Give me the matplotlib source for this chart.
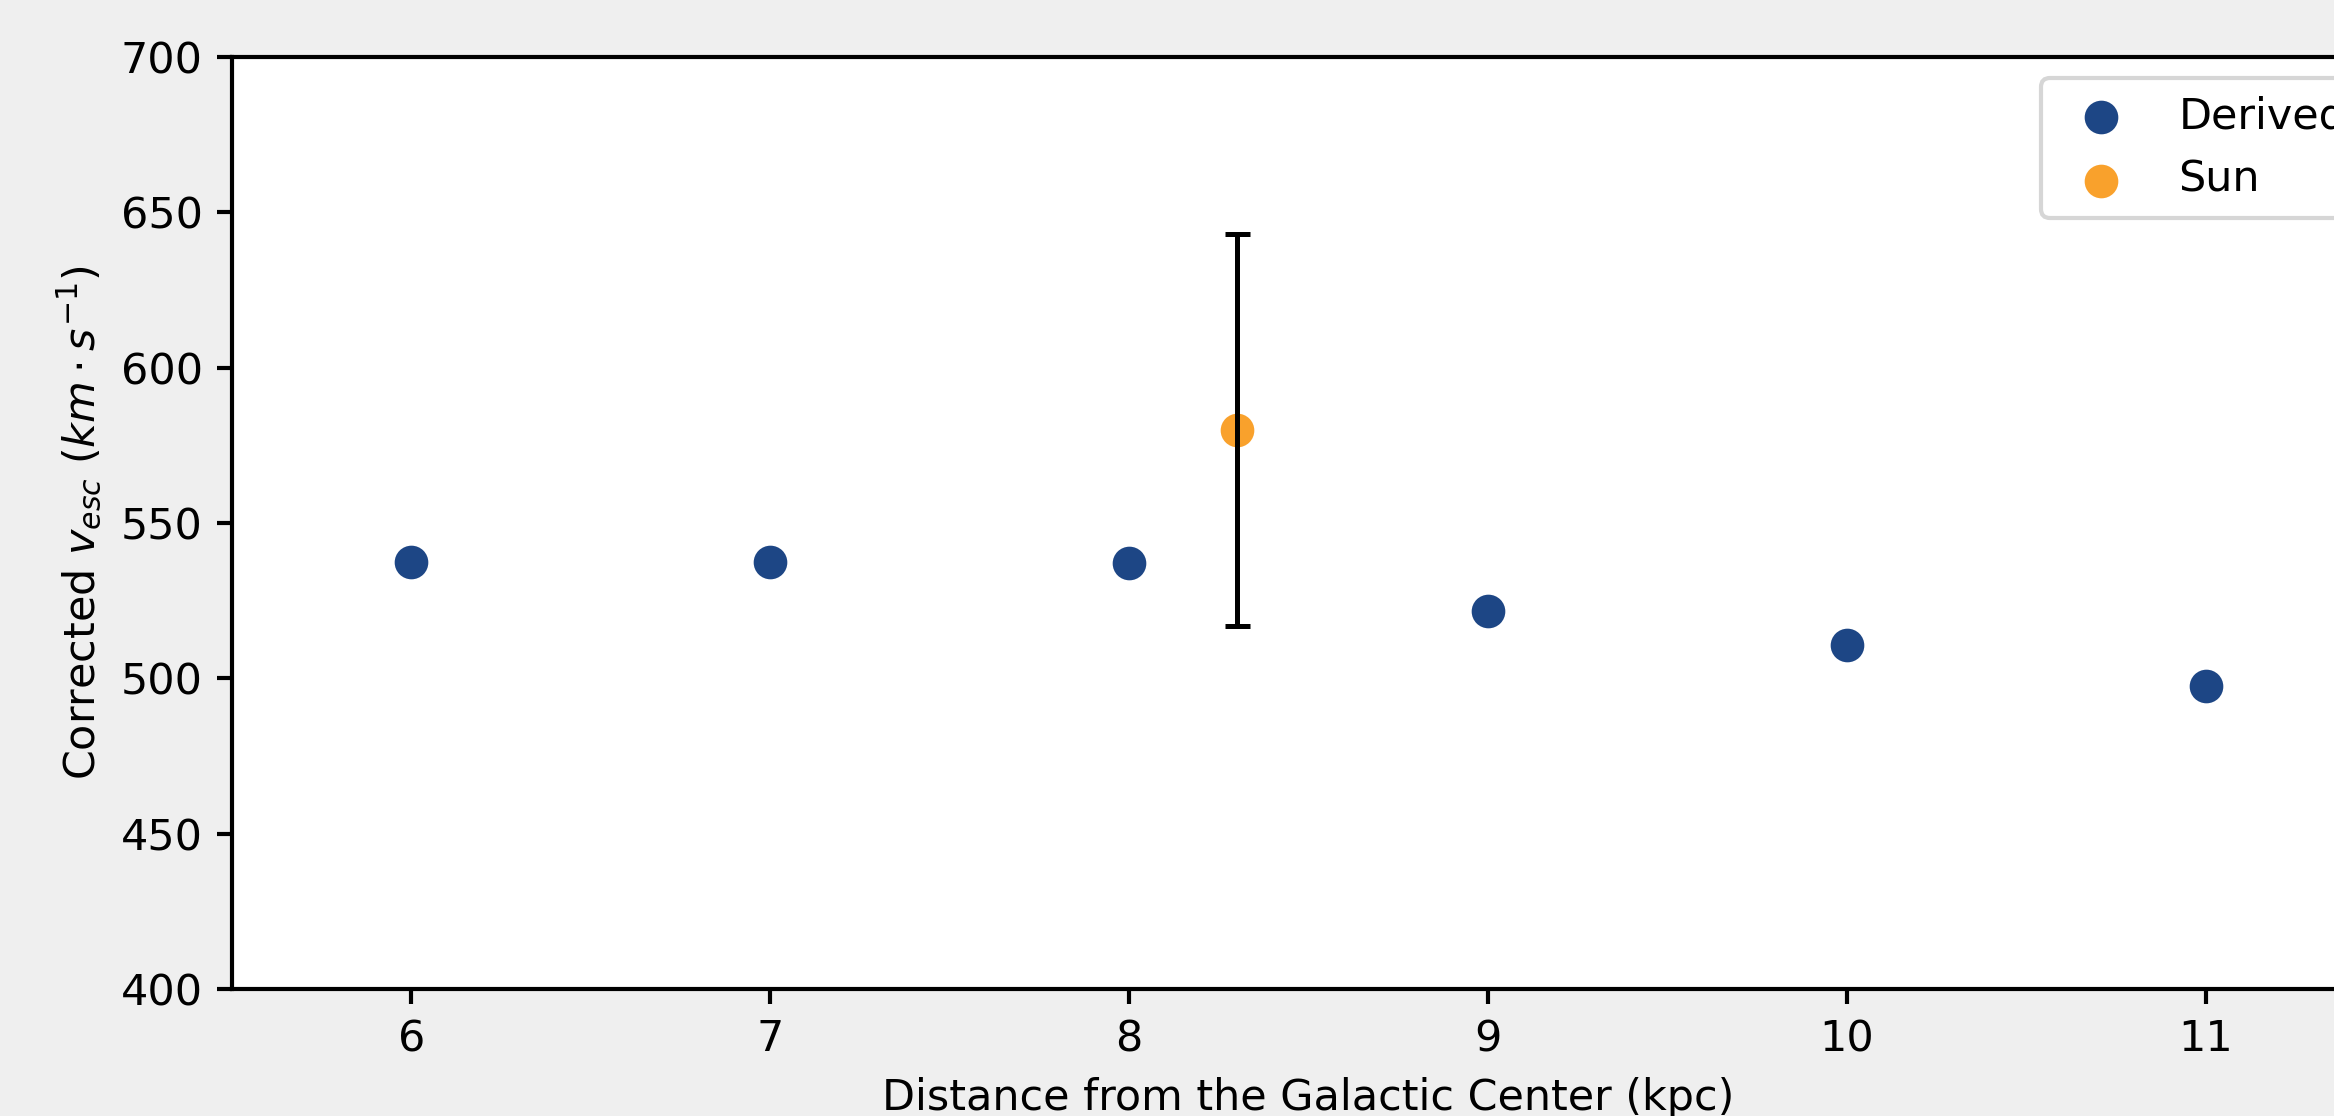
import matplotlib
matplotlib.use("Agg")
import matplotlib.pyplot as plt

# Data
distance_kpc = [6, 7, 8, 9, 10, 11]
vesc_derived = [537.5, 537.4, 537.0, 521.6, 510.9, 497.5]
sun_distance = [8.3]
sun_vesc = [580.0]
sun_err = [63.0]

x_ticks = [6, 7, 8, 9, 10, 11]
y_ticks = [400, 450, 500, 550, 600, 650, 700]

blue = "#1d4685"
orange = "#f9a12c"

plt.rcParams["font.family"] = ["DejaVu Sans"]
plt.rcParams["font.size"] = 10.3

fig = plt.figure(figsize=(2334 / 300, 1116 / 300), dpi=300, facecolor="#efefef")
ax = fig.add_axes([232 / 2334, 1 - 989.3 / 1116, (2385 - 232) / 2334, (989.3 - 56.7) / 1116])
ax.set_facecolor("white")

ax.scatter(distance_kpc, vesc_derived, s=50, color=blue, label="Derived", zorder=3)
ax.scatter(sun_distance, sun_vesc, s=50, color=orange, label="Sun", zorder=3)
ax.errorbar(sun_distance, sun_vesc, yerr=sun_err, fmt="none", ecolor="black",
            elinewidth=1.2, capsize=3, capthick=1.2, zorder=4)

ax.set_xlim(5.5, 11.5)
ax.set_ylim(400, 700)
ax.set_xticks(x_ticks)
ax.set_yticks(y_ticks)
for s in ax.spines.values():
    s.set_linewidth(1.0)
ax.tick_params(width=1.0, length=3.5)

ax.set_xlabel("Distance from the Galactic Center (kpc)")
ax.set_ylabel(r"Corrected $v_{esc}$ $(km \cdot s^{-1})$")

ax.legend(loc="upper right", scatterpoints=1)

fig.savefig("out.png", dpi=300, facecolor=fig.get_facecolor())
